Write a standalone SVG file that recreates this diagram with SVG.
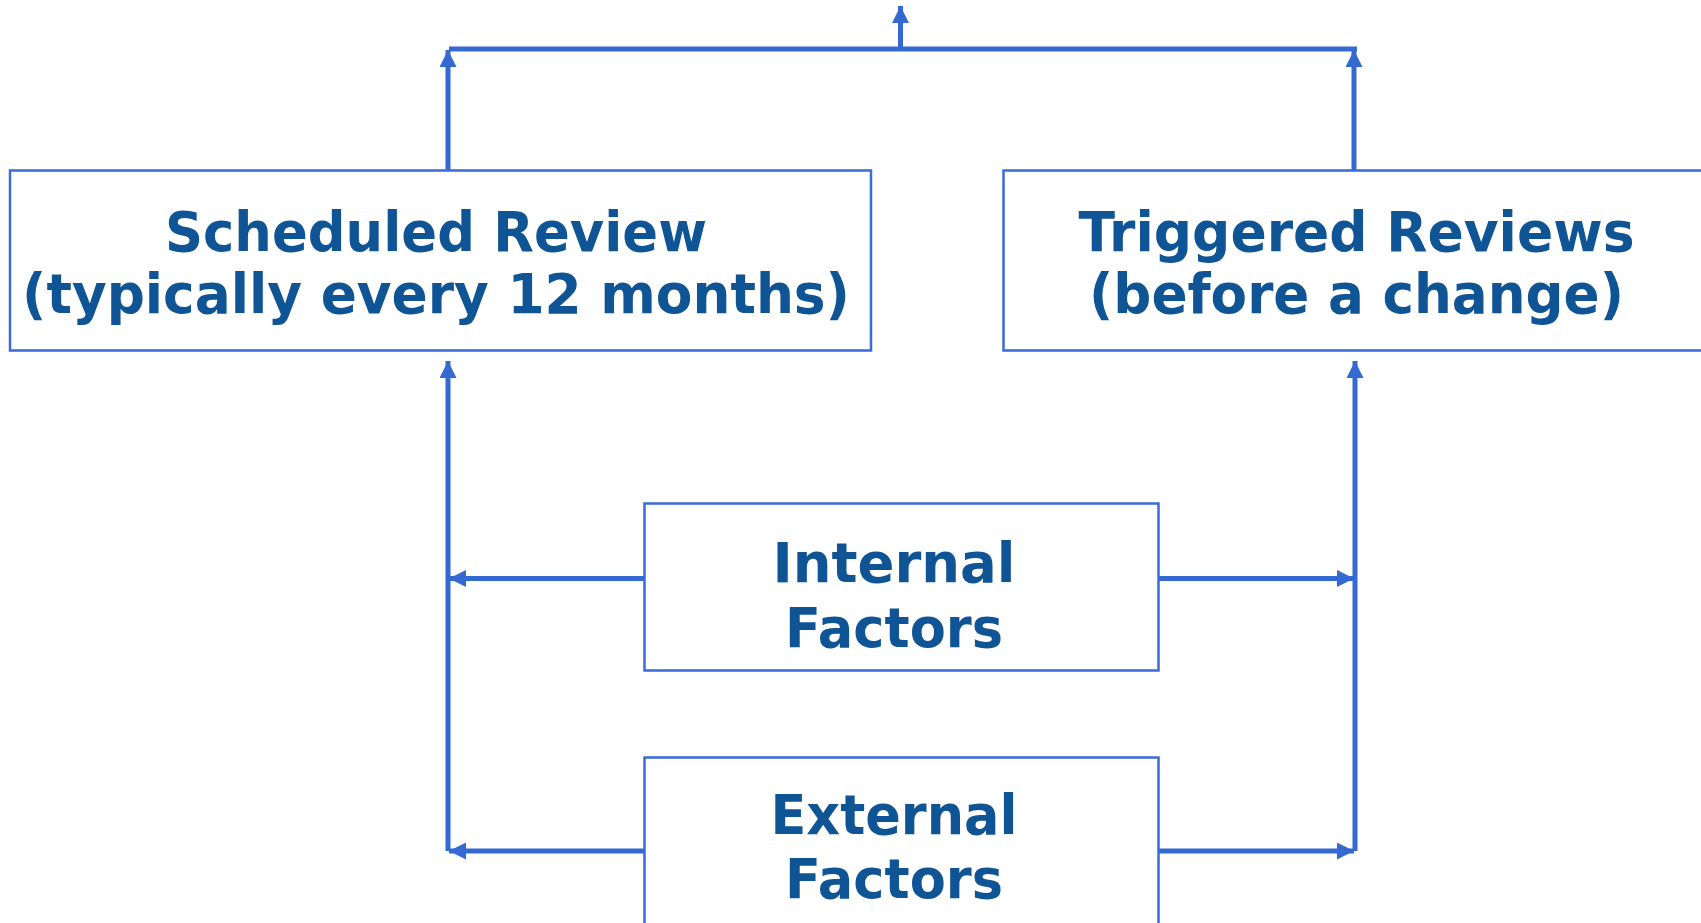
<svg xmlns="http://www.w3.org/2000/svg" width="1701" height="923" viewBox="0 0 1701 923">
<style>
.box{fill:#ffffff;stroke:#3a6bd6;stroke-width:2.5}
.lbl{font-family:"DejaVu Sans",Verdana,sans-serif;font-weight:bold;font-size:55px;fill:#0f5494;text-anchor:middle}
.con{fill:none;stroke:#3469d1;stroke-width:5}
</style>
<defs>
<marker id="ah" markerUnits="userSpaceOnUse" markerWidth="18" markerHeight="18" refX="17" refY="8.5" orient="auto">
<path d="M0,0 L17,8.5 L0,17 z" fill="#3469d1"/>
</marker>
</defs>
<rect width="1701" height="923" fill="#ffffff"/>
<g id="connectors">
<path class="con" d="M449 49 H1357"/>
<path class="con" d="M900.5 49 V6" marker-end="url(#ah)"/>
<path class="con" d="M448 170 V50" marker-end="url(#ah)"/>
<path class="con" d="M1354 170 V50" marker-end="url(#ah)"/>
<path class="con" d="M448 851 V361" marker-end="url(#ah)"/>
<path class="con" d="M1355 851 V361" marker-end="url(#ah)"/>
<path class="con" d="M644 578.5 H449" marker-end="url(#ah)"/>
<path class="con" d="M1159 578.5 H1354" marker-end="url(#ah)"/>
<path class="con" d="M648 851 H449" marker-end="url(#ah)"/>
<path class="con" d="M1159 851 H1354" marker-end="url(#ah)"/>
</g>
<g id="scheduled">
<rect class="box" x="10" y="170.5" width="861" height="180"/>
<text class="lbl" x="436" y="251" textLength="542" lengthAdjust="spacingAndGlyphs">Scheduled Review</text>
<text class="lbl" x="436" y="313" textLength="828" lengthAdjust="spacingAndGlyphs">(typically every 12 months)</text>
</g>
<g id="triggered">
<rect class="box" x="1003.5" y="170.5" width="861" height="180"/>
<text class="lbl" x="1356.5" y="251" textLength="556" lengthAdjust="spacingAndGlyphs">Triggered Reviews</text>
<text class="lbl" x="1356.5" y="313" textLength="535" lengthAdjust="spacingAndGlyphs">(before a change)</text>
</g>
<g id="internal">
<rect class="box" x="644.5" y="503.5" width="514" height="167"/>
<text class="lbl" x="894" y="582" textLength="243" lengthAdjust="spacingAndGlyphs">Internal</text>
<text class="lbl" x="894" y="647" textLength="218" lengthAdjust="spacingAndGlyphs">Factors</text>
</g>
<g id="external">
<rect class="box" x="644.5" y="757.5" width="514" height="200"/>
<text class="lbl" x="894" y="834" textLength="247" lengthAdjust="spacingAndGlyphs">External</text>
<text class="lbl" x="894" y="898" textLength="218" lengthAdjust="spacingAndGlyphs">Factors</text>
</g>
</svg>
